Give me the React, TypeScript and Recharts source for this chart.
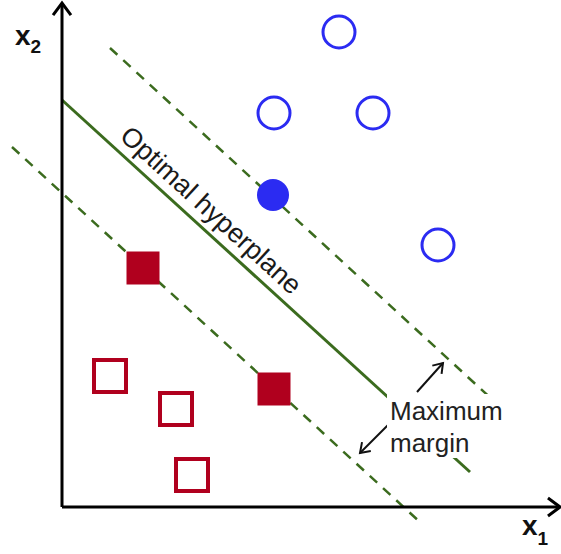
import { ScatterChart, Scatter, XAxis, YAxis, ReferenceLine, ReferenceDot } from 'recharts'

// coordinates in "diagram units" (origin at the axis corner)
const openCircles = [
  { x: 27.7, y: 47.5 },
  { x: 21.2, y: 39.4 },
  { x: 31.1, y: 39.4 },
  { x: 37.6, y: 26.2 },
]
const supportCircles = [{ x: 21.1, y: 31.2 }]
const openSquares = [
  { x: 4.8, y: 13.1 },
  { x: 11.4, y: 9.8 },
  { x: 13.0, y: 3.2 },
]
const supportSquares = [
  { x: 8.1, y: 23.9 },
  { x: 21.2, y: 11.8 },
]

const hyperplane = [{ x: 0, y: 40.7 }, { x: 40.8, y: 3.5 }]
const upperMargin = [{ x: 4.8, y: 45.9 }, { x: 45.8, y: 8.2 }]
const lowerMargin = [{ x: -5.0, y: 36.0 }, { x: 35.9, y: -1.6 }]
const marginArrows = [
  [{ x: 35.5, y: 11.5 }, { x: 38.1, y: 14.4 }],
  [{ x: 32.6, y: 8.2 }, { x: 29.8, y: 5.4 }],
]
const xAxisLine = [{ x: 0, y: 0 }, { x: 49.8, y: 0 }]
const yAxisLine = [{ x: 0, y: 0 }, { x: 0, y: 50.4 }]

const BLUE = '#2b2bf2'
const RED = '#b0001e'
const GREEN = '#3b6b1e'
const FONT = '"Liberation Sans", Arial, sans-serif'

const arrow = (head: number, spread: number, color: string, width: number) => (p: any) => {
  const { x1, y1, x2, y2 } = p
  const a = Math.atan2(y2 - y1, x2 - x1)
  const w1x = x2 - head * Math.cos(a - spread)
  const w1y = y2 - head * Math.sin(a - spread)
  const w2x = x2 - head * Math.cos(a + spread)
  const w2y = y2 - head * Math.sin(a + spread)
  return (
    <g>
      <line x1={x1} y1={y1} x2={x2} y2={y2} stroke={color} strokeWidth={width} />
      <polyline
        points={`${w1x},${w1y} ${x2},${y2} ${w2x},${w2y}`}
        fill="none"
        stroke={color}
        strokeWidth={width}
      />
    </g>
  )
}

export default function App() {
  return (
    <div style={{ position: 'absolute', left: 0, top: 0, background: '#fff' }}>
      <ScatterChart width={561} height={554} margin={{ top: 0, right: 0, bottom: 0, left: 0 }}>
        <XAxis type="number" dataKey="x" domain={[-6.2, 49.9]} allowDataOverflow hide />
        <YAxis type="number" dataKey="y" domain={[-4.7, 50.7]} allowDataOverflow hide />

        <ReferenceLine segment={upperMargin} stroke={GREEN} strokeWidth={2.5} strokeDasharray="10 8" />
        <ReferenceLine segment={lowerMargin} stroke={GREEN} strokeWidth={2.5} strokeDasharray="10 8" />
        <ReferenceLine segment={hyperplane} stroke={GREEN} strokeWidth={3} />

        <ReferenceLine segment={yAxisLine} shape={arrow(15, 0.64, '#000', 3)} />
        <ReferenceLine segment={xAxisLine} shape={arrow(15, 0.64, '#000', 3)} />

        <Scatter
          data={openCircles}
          isAnimationActive={false}
          shape={(p: any) => (
            <circle cx={p.cx} cy={p.cy} r={16} fill="none" stroke={BLUE} strokeWidth={3} />
          )}
        />
        <Scatter
          data={supportCircles}
          isAnimationActive={false}
          shape={(p: any) => <circle cx={p.cx} cy={p.cy} r={16} fill={BLUE} />}
        />
        <Scatter
          data={openSquares}
          isAnimationActive={false}
          shape={(p: any) => (
            <rect x={p.cx - 16} y={p.cy - 16} width={32} height={32} fill="none" stroke={RED} strokeWidth={4} />
          )}
        />
        <Scatter
          data={supportSquares}
          isAnimationActive={false}
          shape={(p: any) => <rect x={p.cx - 16.5} y={p.cy - 16.5} width={33} height={33} fill={RED} />}
        />

        <ReferenceDot
          x={14.3}
          y={29.0}
          shape={(p: any) => (
            <text
              x={p.cx}
              y={p.cy}
              textAnchor="middle"
              transform={`rotate(42.4 ${p.cx} ${p.cy})`}
              fontFamily={FONT}
              fontSize={27}
              fill="#1a1a1a"
            >
              Optimal hyperplane
            </text>
          )}
        />
        <ReferenceDot
          x={32.8}
          y={8.7}
          shape={(p: any) => (
            <g>
              <rect x={p.cx - 3} y={p.cy - 26} width={129} height={64} fill="#fff" />
              <text x={p.cx} y={p.cy} fontFamily={FONT} fontSize={26} fill="#222">
                Maximum
              </text>
            </g>
          )}
        />
        <ReferenceDot
          x={32.8}
          y={5.5}
          shape={(p: any) => (
            <text x={p.cx} y={p.cy} fontFamily={FONT} fontSize={26} fill="#222">
              margin
            </text>
          )}
        />
        {marginArrows.map((seg, i) => (
          <ReferenceLine key={i} segment={seg} shape={arrow(11, 0.6, '#111', 2)} />
        ))}
        <ReferenceDot
          x={-4.7}
          y={46.2}
          shape={(p: any) => (
            <text x={p.cx} y={p.cy} fontFamily={FONT} fontSize={28} fontWeight="bold" fill="#111">
              x<tspan fontSize={19} dy={8}>2</tspan>
            </text>
          )}
        />
        <ReferenceDot
          x={46.0}
          y={-2.8}
          shape={(p: any) => (
            <text x={p.cx} y={p.cy} fontFamily={FONT} fontSize={28} fontWeight="bold" fill="#111">
              x<tspan fontSize={19} dy={10}>1</tspan>
            </text>
          )}
        />
      </ScatterChart>
    </div>
  )
}
